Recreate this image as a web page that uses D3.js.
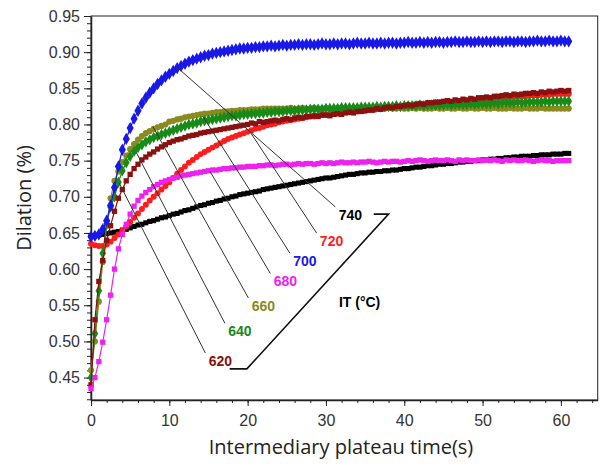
<!DOCTYPE html>
<html>
<head>
<meta charset="utf-8">
<script src="https://cdn.jsdelivr.net/npm/d3@7"></script>
<style>
  body { margin: 0; background: #fff; }
  svg { display: block; font-family: "Liberation Sans", Arial, sans-serif; }
  .axis text { fill: #333; font-size: 16px; }
  .axis path, .axis line { stroke: #222; }
  .axis-label { font-family: "Open Sans", "Noto Sans", sans-serif; font-size: 20px; fill: #222; }
  .it-label { font-weight: bold; font-size: 14px; }
</style>
</head>
<body>
<svg width="614" height="467"></svg>
<script>
// time axis of every series (s), one sample each 0.5 s
const times = d3.range(0, 61.01, 0.5);

// dilation (%) for each intermediary temperature, one value per time sample
const it740 = [
  0.646,0.646,0.647,0.648,0.649,0.650,0.651,0.652,0.654,0.655,
  0.657,0.659,0.661,0.662,0.664,0.666,0.667,0.669,0.671,0.672,
  0.674,0.676,0.677,0.679,0.681,0.682,0.684,0.686,0.688,0.689,
  0.691,0.692,0.694,0.695,0.697,0.698,0.700,0.701,0.703,0.704,
  0.705,0.706,0.707,0.708,0.710,0.711,0.712,0.713,0.714,0.715,
  0.716,0.717,0.718,0.719,0.720,0.721,0.722,0.723,0.724,0.725,
  0.726,0.726,0.727,0.728,0.729,0.730,0.731,0.731,0.732,0.733,
  0.733,0.734,0.734,0.735,0.735,0.736,0.736,0.737,0.737,0.738,
  0.739,0.739,0.740,0.741,0.741,0.742,0.743,0.743,0.744,0.745,
  0.745,0.746,0.746,0.747,0.748,0.748,0.749,0.749,0.750,0.750,
  0.751,0.751,0.752,0.752,0.753,0.753,0.754,0.754,0.755,0.755,
  0.756,0.756,0.756,0.757,0.757,0.758,0.758,0.758,0.759,0.759,
  0.759,0.760,0.760
];
const it720 = [
  0.635,0.633,0.632,0.632,0.634,0.638,0.643,0.648,0.653,0.659,
  0.665,0.671,0.677,0.683,0.689,0.695,0.700,0.705,0.710,0.715,
  0.720,0.726,0.732,0.737,0.742,0.747,0.751,0.755,0.759,0.762,
  0.765,0.768,0.771,0.774,0.777,0.780,0.782,0.784,0.786,0.788,
  0.790,0.792,0.794,0.795,0.797,0.799,0.800,0.801,0.803,0.804,
  0.805,0.806,0.807,0.808,0.809,0.810,0.811,0.811,0.812,0.813,
  0.813,0.814,0.815,0.815,0.816,0.817,0.817,0.818,0.818,0.819,
  0.819,0.820,0.820,0.821,0.822,0.822,0.823,0.823,0.824,0.824,
  0.825,0.825,0.826,0.826,0.827,0.827,0.828,0.828,0.829,0.829,
  0.830,0.830,0.831,0.831,0.832,0.832,0.833,0.833,0.834,0.834,
  0.835,0.835,0.836,0.836,0.837,0.837,0.837,0.838,0.838,0.839,
  0.839,0.839,0.840,0.840,0.840,0.841,0.841,0.841,0.842,0.842,
  0.842,0.842,0.842
];
const it700 = [
  0.645,0.646,0.648,0.655,0.667,0.688,0.713,0.742,0.765,0.780,
  0.795,0.808,0.819,0.829,0.837,0.844,0.850,0.856,0.861,0.866,
  0.870,0.874,0.878,0.881,0.884,0.887,0.889,0.891,0.893,0.895,
  0.896,0.898,0.899,0.900,0.901,0.902,0.903,0.904,0.905,0.905,
  0.906,0.906,0.907,0.907,0.908,0.908,0.909,0.908,0.909,0.910,
  0.909,0.910,0.910,0.911,0.910,0.911,0.911,0.910,0.911,0.912,
  0.911,0.911,0.912,0.911,0.912,0.912,0.911,0.912,0.913,0.912,
  0.912,0.913,0.912,0.912,0.913,0.912,0.913,0.913,0.912,0.913,
  0.913,0.914,0.913,0.913,0.914,0.913,0.914,0.913,0.914,0.914,
  0.913,0.914,0.914,0.915,0.914,0.914,0.915,0.914,0.914,0.915,
  0.914,0.915,0.914,0.915,0.915,0.914,0.915,0.915,0.914,0.915,
  0.915,0.914,0.915,0.915,0.916,0.915,0.915,0.916,0.915,0.915,
  0.916,0.915,0.915
];
const it680 = [
  0.435,0.450,0.472,0.499,0.530,0.564,0.600,0.628,0.648,0.662,
  0.676,0.687,0.695,0.701,0.706,0.710,0.714,0.717,0.720,0.722,
  0.724,0.726,0.727,0.729,0.730,0.731,0.732,0.733,0.734,0.735,
  0.736,0.737,0.737,0.738,0.739,0.739,0.740,0.740,0.741,0.741,
  0.742,0.742,0.742,0.743,0.743,0.744,0.744,0.743,0.744,0.745,
  0.745,0.744,0.745,0.746,0.745,0.746,0.746,0.745,0.746,0.747,
  0.746,0.747,0.746,0.747,0.748,0.747,0.747,0.748,0.747,0.748,
  0.748,0.749,0.748,0.747,0.748,0.749,0.748,0.749,0.749,0.748,
  0.749,0.750,0.749,0.750,0.751,0.750,0.749,0.750,0.751,0.750,
  0.750,0.751,0.750,0.749,0.751,0.750,0.751,0.750,0.750,0.751,
  0.750,0.751,0.750,0.751,0.750,0.749,0.751,0.750,0.751,0.750,
  0.750,0.751,0.750,0.749,0.750,0.751,0.750,0.750,0.749,0.750,
  0.750,0.750,0.750
];
const it660 = [
  0.460,0.500,0.555,0.610,0.660,0.698,0.722,0.735,0.748,0.757,
  0.766,0.773,0.779,0.784,0.788,0.791,0.794,0.796,0.798,0.800,
  0.804,0.805,0.807,0.808,0.810,0.811,0.812,0.813,0.814,0.815,
  0.815,0.816,0.817,0.817,0.818,0.818,0.819,0.819,0.820,0.820,
  0.820,0.821,0.821,0.821,0.822,0.822,0.822,0.822,0.822,0.822,
  0.822,0.823,0.822,0.822,0.823,0.822,0.822,0.823,0.822,0.822,
  0.823,0.822,0.822,0.823,0.822,0.823,0.822,0.822,0.823,0.822,
  0.822,0.823,0.822,0.823,0.822,0.822,0.823,0.822,0.822,0.823,
  0.822,0.822,0.823,0.822,0.823,0.822,0.822,0.822,0.823,0.822,
  0.822,0.823,0.822,0.822,0.823,0.822,0.822,0.823,0.822,0.822,
  0.823,0.822,0.822,0.823,0.822,0.822,0.822,0.823,0.822,0.822,
  0.822,0.823,0.822,0.822,0.822,0.823,0.822,0.822,0.822,0.822,
  0.822,0.822,0.822
];
const it640 = [
  0.450,0.511,0.570,0.622,0.663,0.686,0.700,0.720,0.736,0.747,
  0.756,0.763,0.768,0.772,0.776,0.779,0.782,0.784,0.786,0.788,
  0.790,0.792,0.794,0.796,0.798,0.800,0.801,0.802,0.804,0.805,
  0.806,0.807,0.808,0.809,0.810,0.811,0.812,0.812,0.813,0.814,
  0.814,0.815,0.815,0.816,0.816,0.817,0.817,0.818,0.818,0.818,
  0.819,0.819,0.819,0.820,0.820,0.820,0.821,0.821,0.821,0.821,
  0.822,0.822,0.822,0.822,0.823,0.823,0.823,0.823,0.823,0.824,
  0.824,0.824,0.824,0.825,0.824,0.825,0.825,0.825,0.826,0.825,
  0.826,0.826,0.826,0.826,0.827,0.826,0.827,0.827,0.827,0.827,
  0.827,0.828,0.827,0.828,0.828,0.828,0.828,0.829,0.828,0.829,
  0.829,0.829,0.829,0.830,0.829,0.830,0.830,0.830,0.830,0.831,
  0.830,0.831,0.831,0.831,0.831,0.831,0.832,0.831,0.832,0.832,
  0.832,0.832,0.832
];
const it620 = [
  0.440,0.530,0.583,0.612,0.640,0.660,0.680,0.698,0.710,0.722,
  0.731,0.739,0.745,0.751,0.755,0.759,0.762,0.766,0.769,0.772,
  0.775,0.777,0.779,0.780,0.782,0.784,0.785,0.786,0.788,0.789,
  0.790,0.791,0.792,0.793,0.794,0.795,0.796,0.797,0.798,0.799,
  0.800,0.802,0.801,0.804,0.803,0.804,0.805,0.806,0.805,0.807,
  0.808,0.807,0.809,0.810,0.809,0.811,0.811,0.812,0.811,0.813,
  0.813,0.812,0.814,0.815,0.814,0.816,0.817,0.816,0.818,0.818,
  0.819,0.820,0.820,0.822,0.821,0.823,0.824,0.823,0.825,0.825,
  0.826,0.827,0.826,0.828,0.829,0.828,0.830,0.830,0.831,0.831,
  0.832,0.833,0.832,0.834,0.833,0.835,0.834,0.836,0.835,0.837,
  0.837,0.838,0.837,0.839,0.839,0.840,0.841,0.840,0.842,0.841,
  0.842,0.843,0.843,0.844,0.843,0.845,0.844,0.846,0.845,0.846,
  0.847,0.846,0.847
];

// leader lines: [time, dilation] on the curve and at the label
const labelNames = ["740", "720", "700", "680", "660", "640", "620"];
const leaderFrom = [[11.1, 0.878], [20.3, 0.790], [14.3, 0.811], [15.2, 0.735], [7.9, 0.797], [5.75, 0.762], [3.6, 0.719]];
const leaderTo   = [[31.2, 0.686], [28.8, 0.650], [25.4, 0.622], [22.9, 0.594], [20.1, 0.560], [17.1, 0.525], [14.6, 0.484]];
const bracket = [[36.1, 0.676], [38.0, 0.676], [19.9, 0.462], [17.7, 0.462]];
const itTitle = [34.3, 0.555];

const xTicks = [0, 10, 20, 30, 40, 50, 60];
const yTicks = [0.45, 0.50, 0.55, 0.60, 0.65, 0.70, 0.75, 0.80, 0.85, 0.90, 0.95];

const color = {
  "740": "#000000", "720": "#ff1c1c", "700": "#1818e8", "680": "#ee22ee",
  "660": "#8a8a1e", "640": "#188a18", "620": "#8b1010"
};
const shape = {
  "740": d3.symbolSquare, "720": d3.symbolCircle, "700": d3.symbolDiamond, "680": d3.symbolSquare,
  "660": d3.symbolCircle, "640": d3.symbolDiamond, "620": d3.symbolSquare
};
const symSize = { "740": 26, "720": 28, "700": 44, "680": 28, "660": 30, "640": 38, "620": 28 };

// drawing order, back to front
const series = [
  { name: "740", values: it740 },
  { name: "720", values: it720 },
  { name: "660", values: it660 },
  { name: "640", values: it640 },
  { name: "620", values: it620 },
  { name: "680", values: it680 },
  { name: "700", values: it700 }
];

const svg = d3.select("svg");
const x = d3.scaleLinear().domain([0, 64.7]).range([91, 597.7]);
const y = d3.scaleLinear().domain([0.419, 0.95]).range([400, 16]);

// frame
svg.append("rect")
  .attr("x", x(0)).attr("y", y(0.95))
  .attr("width", x(64.7) - x(0)).attr("height", y(0.419) - y(0.95))
  .attr("fill", "none").attr("stroke", "#222").attr("stroke-width", 1);

// minor ticks
svg.append("g").attr("class", "axis")
  .attr("transform", `translate(0,${y(0.419)})`)
  .call(d3.axisBottom(x).tickValues(d3.range(0, 65, 2)).tickSize(3).tickFormat(""))
  .call(g => g.select(".domain").remove());
svg.append("g").attr("class", "axis")
  .attr("transform", `translate(${x(0)},0)`)
  .call(d3.axisLeft(y).tickValues(d3.range(42, 96).map(d => d / 100)).tickSize(4).tickFormat(""))
  .call(g => g.select(".domain").remove());

// major axes
svg.append("g").attr("class", "axis")
  .attr("transform", `translate(0,${y(0.419)})`)
  .call(d3.axisBottom(x).tickValues(xTicks).tickSize(6).tickPadding(9).tickSizeOuter(0))
  .call(g => g.select(".domain").attr("stroke-width", 1.5));
svg.append("g").attr("class", "axis")
  .attr("transform", `translate(${x(0)},0)`)
  .call(d3.axisLeft(y).tickValues(yTicks).tickSize(7).tickPadding(4).tickSizeOuter(0).tickFormat(d3.format(".2f")))
  .call(g => g.select(".domain").attr("stroke-width", 1.5));

svg.append("text").attr("class", "axis-label")
  .attr("x", 341).attr("y", 454)
  .attr("text-anchor", "middle")
  .text("Intermediary plateau time(s)");
svg.append("text").attr("class", "axis-label")
  .attr("transform", "translate(31,198) rotate(-90)")
  .attr("text-anchor", "middle")
  .text("Dilation (%)");

// series
const line = d3.line().x((d, i) => x(times[i])).y(d => y(d));
const plot = svg.append("g");
series.forEach(s => {
  const g = plot.append("g");
  g.append("path")
    .attr("d", line(s.values))
    .attr("fill", "none")
    .attr("stroke", color[s.name])
    .attr("stroke-width", 1.2);
  g.selectAll("path.m")
    .data(s.values)
    .join("path")
    .attr("class", "m")
    .attr("transform", (d, i) => `translate(${x(times[i])},${y(d)})`)
    .attr("d", d3.symbol(shape[s.name], symSize[s.name]))
    .attr("fill", color[s.name]);
});

// leader lines and temperature labels
const ann = svg.append("g");
labelNames.forEach((name, i) => {
  ann.append("line")
    .attr("x1", x(leaderFrom[i][0])).attr("y1", y(leaderFrom[i][1]))
    .attr("x2", x(leaderTo[i][0])).attr("y2", y(leaderTo[i][1]))
    .attr("stroke", "#333").attr("stroke-width", 1);
  ann.append("text")
    .attr("class", "it-label")
    .attr("x", x(leaderTo[i][0]) + 15).attr("y", y(leaderTo[i][1]) + 13)
    .attr("text-anchor", "middle")
    .attr("fill", color[name])
    .text(name);
});
ann.append("path")
  .attr("d", d3.line().x(d => x(d[0])).y(d => y(d[1]))(bracket))
  .attr("fill", "none").attr("stroke", "#111").attr("stroke-width", 1.6);
ann.append("text")
  .attr("class", "it-label")
  .attr("x", x(itTitle[0])).attr("y", y(itTitle[1]) + 5)
  .attr("text-anchor", "middle")
  .text("IT (°C)");
</script>
</body>
</html>
